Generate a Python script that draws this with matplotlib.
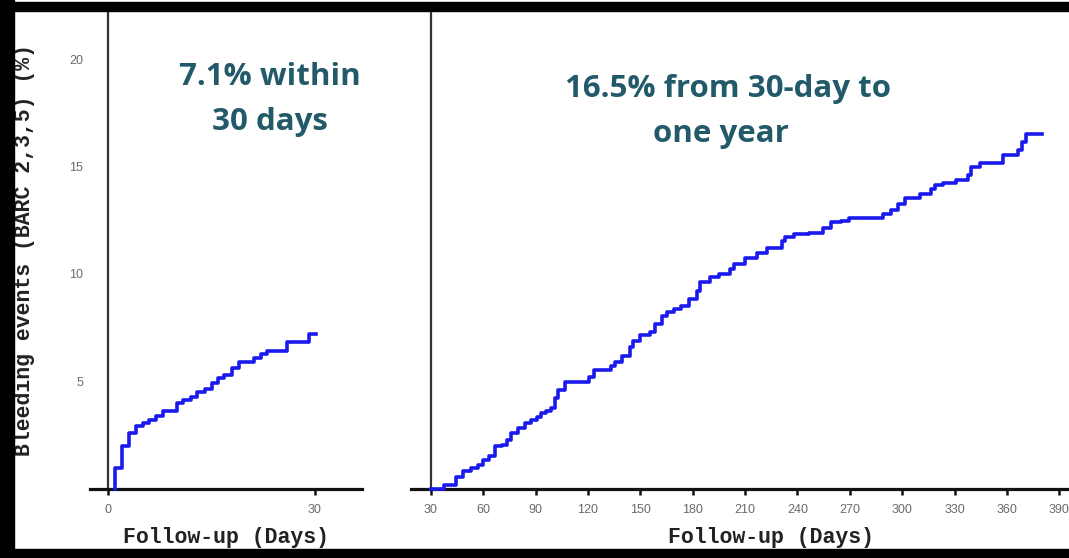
import matplotlib
matplotlib.use('Agg')
import matplotlib.pyplot as plt
from matplotlib.patches import Rectangle

# ---- data ----
early_event_days = [1.0, 2.1, 3.1, 4.1, 5.0, 6.0, 7.0, 8.0, 10.0, 10.9, 12.0, 12.9,
                    14.0, 15.0, 15.9, 16.8, 18.0, 19.0, 21.2, 22.2, 23.1, 26.0, 29.2]
early_values = [1.0, 2.0, 2.6, 2.95, 3.05, 3.2, 3.4, 3.65, 4.0, 4.15, 4.3, 4.5,
                4.65, 4.95, 5.15, 5.3, 5.65, 5.9, 6.1, 6.3, 6.4, 6.85, 7.2]
early_start, early_end = 1.0, 30.2

late_event_days = [37.7, 44.4, 48.3, 53, 57, 60, 63.5, 66.5, 70.5, 73.6, 76, 80, 84, 87.5,
                   90.5, 93, 96, 99, 101, 103, 107, 120.5, 123.5, 133, 135.6, 139.4, 144,
                   146, 150, 155.6, 158.5, 162.3, 165, 169, 173, 177.6, 182.4, 184.3, 190,
                   195, 201.6, 203.5, 210, 217, 222.7, 231.3, 233, 238, 246.8, 254.5,
                   259.2, 265, 269.8, 289, 293.8, 297.6, 301.5, 310, 316.7, 318.6, 323.4,
                   331, 337.8, 339.7, 344.5, 358, 366.6, 368.5, 370.8]
late_values = [0.2, 0.55, 0.82, 0.98, 1.13, 1.37, 1.52, 1.98, 2.06, 2.3, 2.6, 2.83, 3.06, 3.22,
               3.37, 3.52, 3.63, 3.75, 4.21, 4.6, 4.98, 5.22, 5.55, 5.72, 5.91, 6.2, 6.6,
               6.9, 7.14, 7.29, 7.68, 8.06, 8.22, 8.37, 8.53, 8.83, 9.22, 9.61, 9.84,
               9.99, 10.22, 10.45, 10.76, 11.0, 11.23, 11.53, 11.7, 11.85, 11.93, 12.16,
               12.4, 12.47, 12.62, 12.78, 13.0, 13.24, 13.55, 13.72, 13.95, 14.14, 14.25,
               14.38, 14.6, 15.0, 15.18, 15.53, 15.76, 16.15, 16.5]
late_start, late_end = 30.0, 380.0

early_xticks = [0, 30]
late_xticks = [30, 60, 90, 120, 150, 180, 210, 240, 270, 300, 330, 360, 390]
yticks = [5, 10, 15, 20]

early_note = ["7.1% within", "30 days"]
late_note = ["16.5% from 30-day to", "one year"]
xlabel = "Follow-up (Days)"
ylabel = "Bleeding events (BARC 2,3,5) (%)"

# ---- figure ----
W, H = 1069, 558
fig = plt.figure(figsize=(W / 100, H / 100), dpi=100)
fig.patch.set_facecolor('white')

line_color = '#1a1aee'
teal = '#235a6a'
tick_color = '#6a6a6a'

base_px, top_px = 489, 10
ymax = (base_px - top_px) / 21.5

def fx(px):
    return px / W

def fy(py):
    return 1 - py / H

def setup(ax, yspine_at):
    for s in ['top', 'right']:
        ax.spines[s].set_visible(False)
    ax.spines['left'].set_position(('data', yspine_at))
    ax.spines['left'].set_linewidth(1.6)
    ax.spines['left'].set_color('#333333')
    ax.spines['bottom'].set_linewidth(2.3)
    ax.spines['bottom'].set_color('#111111')
    ax.set_ylim(0, ymax)
    ax.tick_params(axis='x', direction='out', length=4.5, width=1.8, color='#111111',
                   pad=6, labelsize=9, labelcolor=tick_color)

# left panel
axL = fig.add_axes([fx(90), fy(base_px), fx(362 - 90), (base_px - top_px) / H])
setup(axL, 0)
axL.set_xlim((90 - 108) / 6.9, (362 - 108) / 6.9)
axL.set_xticks(early_xticks)
axL.set_yticks(yticks)
axL.tick_params(axis='y', length=0, pad=18, labelsize=9, labelcolor=tick_color)
for lab in axL.get_xticklabels() + axL.get_yticklabels():
    lab.set_family('Liberation Sans')
xL = [early_start] + early_event_days + [early_end]
yL = [0] + early_values + [early_values[-1]]
axL.step(xL, yL, where='post', color=line_color, lw=2.6, clip_on=False, zorder=5)

# right panel
axR = fig.add_axes([fx(411), fy(base_px), fx(W - 411), (base_px - top_px) / H])
setup(axR, 30)
axR.set_xlim(30 - 20 / 1.745, 30 + (W - 431) / 1.745)
axR.set_xticks(late_xticks)
axR.set_yticks([])
for lab in axR.get_xticklabels():
    lab.set_family('Liberation Sans')
xR = [late_start] + late_event_days + [late_end]
yR = [0] + late_values + [late_values[-1]]
axR.step(xR, yR, where='post', color=line_color, lw=2.6, clip_on=False, zorder=5)

# axis titles
lab_kw = dict(family='Liberation Mono', weight='bold', size=15.5, color='#222222',
              ha='center', va='center')
fig.text(fx(226), fy(538), xlabel, **lab_kw)
fig.text(fx(771), fy(538), xlabel, **lab_kw)
fig.text(fx(25), fy(250), ylabel, rotation=90, **lab_kw)

# annotations
note_kw = dict(family='Open Sans', weight='bold', size=22.5, color=teal,
               ha='center', va='baseline')
fig.text(fx(270), fy(85), early_note[0], **note_kw)
fig.text(fx(270), fy(130), early_note[1], **note_kw)
fig.text(fx(728), fy(97), late_note[0], **note_kw)
fig.text(fx(721), fy(142), late_note[1], **note_kw)

# black frame
for (x0, y0, w, h) in [(0, 0, 14, H), (0, 2, W, 9), (0, H - 9, W, 9)]:
    fig.patches.append(Rectangle((fx(x0), fy(y0 + h)), fx(w), h / H,
                                 transform=fig.transFigure, color='black', zorder=10))

fig.savefig('out.png', dpi=100)
